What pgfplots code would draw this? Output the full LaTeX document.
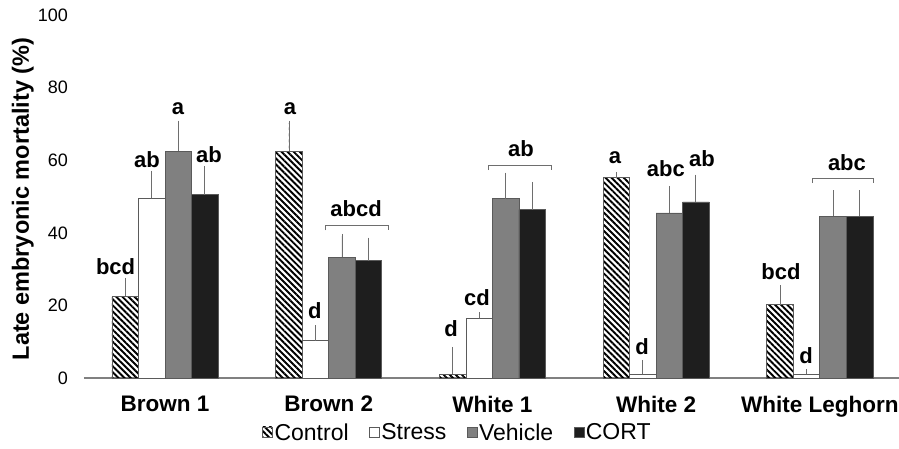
\documentclass[border=0pt]{standalone}
\usepackage{fontspec}
\setmainfont{Liberation Sans}
\usepackage{pgfplots}
\usepackage{pgfplotstable}
\pgfplotsset{compat=1.18}
\usetikzlibrary{patterns.meta}
\definecolor{barline}{HTML}{5A5A5A}
\definecolor{vehfill}{HTML}{808080}
\definecolor{cortfill}{HTML}{1E1E1E}
\definecolor{errc}{HTML}{6E6E6E}
\definecolor{axc}{HTML}{808080}

\pgfplotstableread{
x C Ce S Se V Ve K Ke
0 22.5 4.5 49.5 7.0 62.5 7.8 50.5 7.2
1 62.5 7.8 10.3 3.6 33.3 5.8 32.3 5.8
2 1.0 7.0 16.4 1.1 49.4 6.6 46.4 7.0
3 55.2 1.0 1.0 3.4 45.5 6.8 48.5 6.9
4 20.2 4.7 1.0 0.8 44.5 6.6 44.5 6.6
}\mortdata

\begin{document}
\begin{tikzpicture}
\path[use as bounding box] (-84pt,-70pt) rectangle (815pt,378pt);
\begin{axis}[
  scale only axis,
  width=815pt, height=363pt,
  xmin=-0.495, xmax=4.484,
  ymin=0, ymax=100,
  clip=false,
  ybar=0pt,
  bar width=0.162,
  axis lines*=left,
  y axis line style={draw=none},
  x axis line style={draw=axc, line width=1.5pt, -},
  major tick length=0pt,
  xtick={0,1,2,3,4},
  xticklabels={Brown 1, Brown 2, White 1, White 2, White Leghorn},
  ytick={0,20,40,60,80,100},
  /pgf/number format/assume math mode=true,
  yticklabel style={font=\fontsize{18}{20}\selectfont, anchor=east, inner sep=0pt, xshift=-16pt},
  xticklabel style={font=\bfseries\fontsize{22.5}{25}\selectfont, anchor=north, inner sep=0pt, yshift=-18pt},
  ylabel={Late embryonic mortality (\%)},
  every axis y label/.style={at={(axis description cs:-0.075,0.493)}, rotate=90, anchor=center, font=\bfseries\fontsize{23.5}{26}\selectfont},
  legend columns=4,
  legend style={draw=none, fill=none, at={(axis description cs:0.458,-0.150)}, anchor=center,
    font=\fontsize{23}{26}\selectfont,
    nodes={inner xsep=1.5pt, inner ysep=1pt},
    /tikz/every even column/.append style={column sep=19pt}},
  error bars/y dir=plus,
  error bars/y explicit,
  error bars/error bar style={draw=errc, line width=0.8pt},
  error bars/error mark options={draw=errc, mark size=2.2pt, line width=0.8pt},
  sqlegend/.style={legend image code/.code={\draw[##1, draw=barline, line width=0.6pt] (0pt,-4.5pt) rectangle (10pt,5.5pt);}},
]
\addplot[draw=barline, line width=0.6pt, fill=white, pattern={Lines[angle=-45, distance=4.3pt, line width=1.9pt]}, sqlegend]
  table[x=x, y=C, y error=Ce]{\mortdata};
\addlegendentry{Control}
\addplot[draw=barline, line width=0.6pt, fill=white, sqlegend]
  table[x=x, y=S, y error=Se]{\mortdata};
\addlegendentry{Stress}
\addplot[draw=barline, line width=0.6pt, fill=vehfill, sqlegend]
  table[x=x, y=V, y error=Ve]{\mortdata};
\addlegendentry{Vehicle}
\addplot[draw=barline, line width=0.6pt, fill=cortfill, sqlegend]
  table[x=x, y=K, y error=Ke]{\mortdata};
\addlegendentry{CORT}

\tikzset{lab/.style={anchor=base, inner sep=0pt, font=\bfseries\fontsize{22}{24}\selectfont}}
% Brown 1
\node[lab] at (axis cs:-0.302,28.4) {bcd};
\node[lab] at (axis cs:-0.110,58.1) {ab};
\node[lab] at (axis cs:0.079,72.5) {a};
\node[lab] at (axis cs:0.269,59.5) {ab};
% Brown 2
\node[lab] at (axis cs:0.764,72.5) {a};
\node[lab] at (axis cs:0.916,16.5) {d};
\node[lab] at (axis cs:1.167,44.4) {abcd};
\draw[errc, line width=0.8pt] (axis cs:0.977,40.7) -- (axis cs:0.977,42.1) -- (axis cs:1.362,42.1) -- (axis cs:1.362,40.7);
% White 1
\node[lab] at (axis cs:1.747,11.3) {d};
\node[lab] at (axis cs:1.906,20.1) {cd};
\node[lab] at (axis cs:2.175,60.9) {ab};
\draw[errc, line width=0.8pt] (axis cs:1.973,57.3) -- (axis cs:1.973,58.7) -- (axis cs:2.358,58.7) -- (axis cs:2.358,57.3);
% White 2
\node[lab] at (axis cs:2.749,59.2) {a};
\node[lab] at (axis cs:2.914,6.6) {d};
\node[lab] at (axis cs:3.060,55.4) {abc};
\node[lab] at (axis cs:3.280,58.4) {ab};
% White Leghorn
\node[lab] at (axis cs:3.763,27.0) {bcd};
\node[lab] at (axis cs:3.916,3.9) {d};
\node[lab] at (axis cs:4.166,57.3) {abc};
\draw[errc, line width=0.8pt] (axis cs:3.954,53.7) -- (axis cs:3.954,55.1) -- (axis cs:4.329,55.1) -- (axis cs:4.329,53.7);
\end{axis}
\end{tikzpicture}
\end{document}
